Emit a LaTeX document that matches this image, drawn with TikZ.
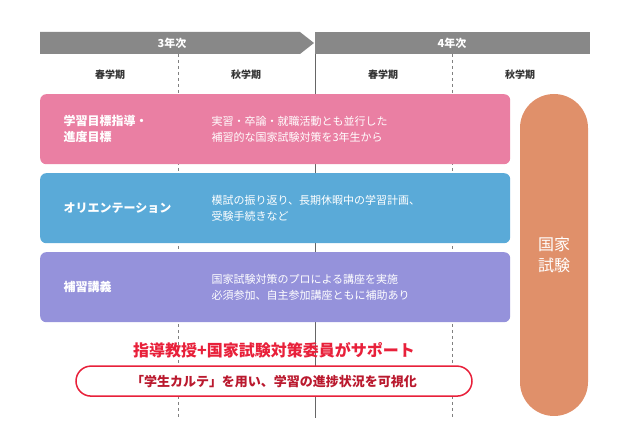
\documentclass[tikz,border=0pt]{standalone}
\usepackage{fontspec}
\setmainfont{Noto Sans CJK JP}
\usetikzlibrary{positioning}
\definecolor{bandgray}{HTML}{888888}
\definecolor{pinkbox}{HTML}{EA7FA3}
\definecolor{bluebox}{HTML}{5AAAD8}
\definecolor{purplebox}{HTML}{9592DB}
\definecolor{examorange}{HTML}{E0906A}
\definecolor{supportred}{HTML}{E8203A}
\begin{document}
\begin{tikzpicture}[x=1pt, y=-1pt,
    term/.style={font=\fontsize{10}{12}\selectfont\bfseries, text=black!80},
    course/.style={draw=none, rounded corners=6pt, minimum width=470pt, minimum height=70pt, anchor=north west},
    head/.style={font=\fontsize{12}{16}\selectfont\bfseries, text=white, align=left, anchor=west},
    body/.style={font=\fontsize{11}{16}\selectfont, text=white, align=left, anchor=west}]
    \useasboundingbox (0,0) rectangle (630,446);
    % year band
    \fill[bandgray] (40,32) -- (300,32) -- (314,43) -- (300,54) -- (40,54) -- cycle;
    \fill[bandgray] (315,32) rectangle (590,54);
    \node[font=\fontsize{11}{12}\selectfont\bfseries, text=white] (y3) at (172,43) {3年次};
    \node[font=\fontsize{11}{12}\selectfont\bfseries, text=white] (y4) at (452,43) {4年次};
    % dividers
    \draw[gray, dashed] (178,54) -- (178,418);
    \draw[gray, dashed] (452,54) -- (452,418);
    \draw[gray!80!black] (315,54) -- (315,418);
    \node[term] (s1) at (110,75) {春学期};
    \node[term] (a1) at (246,75) {秋学期};
    \node[term] (s2) at (383,75) {春学期};
    \node[term] (a2) at (520,75) {秋学期};
    % courses
    \node[course, fill=pinkbox] (goal) at (40,94) {};
    \node[head] at (60,129) {学習目標指導・\\進度目標};
    \node[body] at (208,129) {実習・卒論・就職活動とも並行した\\補習的な国家試験対策を3年生から};
    \node[course, fill=bluebox] (orient) at (40,173) {};
    \node[head] at (60,208) {オリエンテーション};
    \node[body] at (208,208) {模試の振り返り、長期休暇中の学習計画、\\受験手続きなど};
    \node[course, fill=purplebox] (lecture) at (40,252) {};
    \node[head] at (60,287) {補習講義};
    \node[body] at (208,287) {国家試験対策のプロによる講座を実施\\必須参加、自主参加講座ともに補助あり};
    % exam
    \fill[examorange, rounded corners=34pt] (520,94) rectangle (588,416);
    \node[font=\fontsize{16}{21}\selectfont, text=white, align=center] (exam) at (554,255) {国家\\試験};
    % support
    \node[font=\fontsize{16}{18}\selectfont\bfseries, text=supportred] (support) at (274,350) {指導教授+国家試験対策委員がサポート};
    \node[draw=supportred, line width=1.5pt, fill=white, rounded corners=15pt, minimum width=396pt, minimum height=30pt,
        font=\fontsize{13}{16}\selectfont\bfseries, text=supportred!80!black, below=4pt of support] (karte) {「学生カルテ」を用い、学習の進捗状況を可視化};
\end{tikzpicture}
\end{document}
